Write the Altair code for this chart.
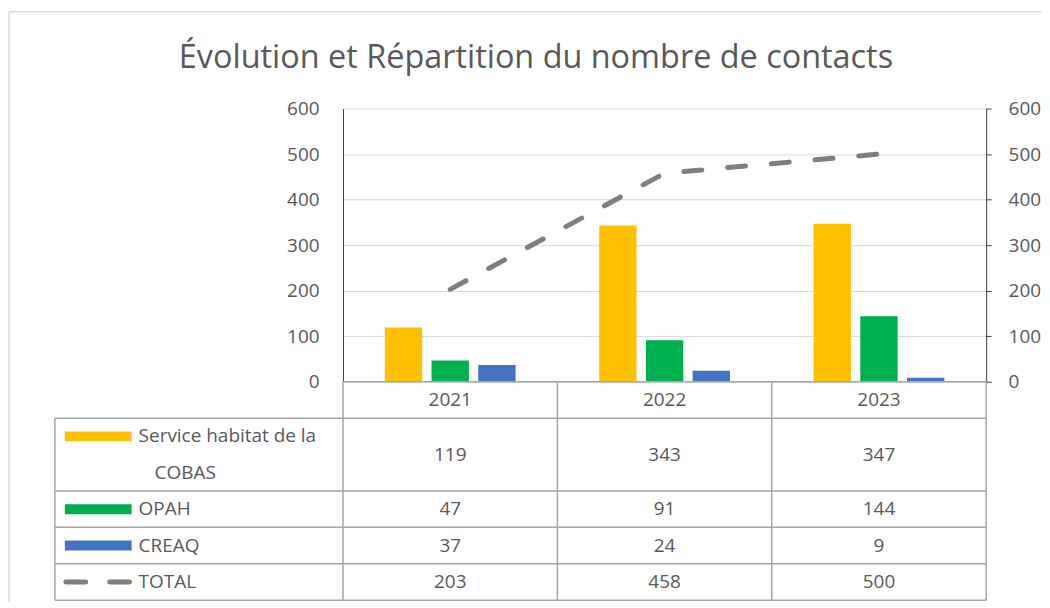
import altair as alt
import pandas as pd

# ---------------- data ----------------
years = ["2021", "2022", "2023"]
series = ["Service habitat de la COBAS", "OPAH", "CREAQ"]
cobas = [119, 343, 347]
opah = [47, 91, 144]
creaq = [37, 24, 9]
total = [203, 458, 500]
y_ticks = [0, 100, 200, 300, 400, 500, 600]

# table rows (slot names of the data table under the chart)
slots = ["hdr", "r1a", "r1b", "r2", "r3", "r4"]
row_labels = ["Service habitat de la", "OPAH", "CREAQ", "TOTAL"]
row_label_slots = ["r1a", "r2", "r3", "r4"]

# ---------------- style ----------------
colors = ["#FFC000", "#00B050", "#4472C4"]
line_color = "#7F7F7F"
FONT = "Open Sans"
TXT = "#595959"
BORDER = "#A6A6A6"
AXIS = "#404040"
W, H, TH = 645, 274, 219
LABEL_COL = 289

bars_df = pd.DataFrame(
    [{"year": y, "series": s, "value": v}
     for s, vals in zip(series, [cobas, opah, creaq])
     for y, v in zip(years, vals)]
)
total_df = pd.DataFrame({"year": years, "total": total})

# ---------------- top: bars + line ----------------
x_top = alt.X("year:N", sort=years,
              scale=alt.Scale(paddingInner=0.39, paddingOuter=0.195), axis=None)

bars = alt.Chart(bars_df).mark_bar().encode(
    x=x_top,
    xOffset=alt.XOffset("series:N", sort=series,
                        scale=alt.Scale(paddingInner=0.2, paddingOuter=0)),
    y=alt.Y("value:Q", scale=alt.Scale(domain=[0, 600], nice=False),
            axis=alt.Axis(values=y_ticks, orient="left", grid=True, gridColor="#D9D9D9",
                          ticks=False, tickSize=0, labelPadding=24, domainColor=AXIS,
                          labelFontSize=19, labelColor=TXT, labelFont=FONT, title=None)),
    color=alt.Color("series:N", scale=alt.Scale(domain=series, range=colors), legend=None),
)

line = alt.Chart(total_df).mark_line(
    color=line_color, strokeWidth=5, strokeDash=[18, 26], strokeCap="round"
).encode(
    x=x_top,
    y=alt.Y("total:Q", scale=alt.Scale(domain=[0, 600], nice=False),
            axis=alt.Axis(values=y_ticks, orient="right", grid=False, ticks=True, tickSize=5,
                          tickColor=AXIS, domainColor=AXIS, labelPadding=17,
                          labelFontSize=19, labelColor=TXT, labelFont=FONT, title=None)),
)

# light chart-area frame (top and left edges, as in the reference)
frame_top = alt.Chart(pd.DataFrame({"k": [0]})).mark_rule(color="#D9D9D9", strokeWidth=1.5).encode(
    x=alt.value(-335), x2=alt.value(700), y=alt.value(-97))
frame_left = alt.Chart(pd.DataFrame({"k": [0]})).mark_rule(color="#D9D9D9", strokeWidth=1.5).encode(
    x=alt.value(-335), y=alt.value(-97), y2=alt.value(H))

top = alt.layer(frame_top, frame_left, bars, line).resolve_scale(y="independent").properties(
    width=W, height=H)

# ---------------- bottom: data table ----------------
y_scale = alt.Scale(domain=slots, paddingInner=0, paddingOuter=0)
x_tab = alt.X("year:N", sort=years, scale=alt.Scale(paddingInner=0, paddingOuter=0), axis=None)


def ys(bp=0.5):
    return alt.Y("slot:N", scale=y_scale, axis=None, bandPosition=bp)


hdr_df = pd.DataFrame({"year": years, "slot": ["hdr"] * 3})
vals_df = pd.DataFrame(
    [{"year": y, "slot": s, "value": v}
     for s, vals in zip(["r2", "r3", "r4"], [opah, creaq, total])
     for y, v in zip(years, vals)]
)
cobas_df = pd.DataFrame({"year": years, "slot": ["r1b"] * 3, "value": cobas})

txt = dict(font=FONT, fontSize=19, color=TXT, baseline="middle")

hdr_text = alt.Chart(hdr_df).mark_text(**txt).encode(x=x_tab, y=ys(), text="year:N")
val_text = alt.Chart(vals_df).mark_text(**txt).encode(x=x_tab, y=ys(), text="value:Q")
cobas_text = alt.Chart(cobas_df).mark_text(**txt).encode(x=x_tab, y=ys(0), text="value:Q")

# borders
hb_df = pd.DataFrame({"slot": ["r1a", "r2", "r3", "r4"]})
h_full = alt.Chart(hb_df).mark_rule(color=BORDER, strokeWidth=1.5).encode(
    y=ys(0), x=alt.value(-LABEL_COL), x2=alt.value(W))
h_bottom = alt.Chart(pd.DataFrame({"slot": ["r4"]})).mark_rule(color=BORDER, strokeWidth=1.5).encode(
    y=ys(1), x=alt.value(-LABEL_COL), x2=alt.value(W))
h_top = alt.Chart(pd.DataFrame({"slot": ["hdr"]})).mark_rule(color=BORDER, strokeWidth=1.5).encode(
    y=ys(0), x=alt.value(0), x2=alt.value(W))
v_cols = alt.Chart(pd.DataFrame({"year": years})).mark_rule(color=BORDER, strokeWidth=1.5).encode(
    x=alt.X("year:N", sort=years, scale=alt.Scale(paddingInner=0, paddingOuter=0), axis=None,
            bandPosition=0),
    y=alt.value(0), y2=alt.value(TH))
v_right = alt.Chart(pd.DataFrame({"year": ["2023"]})).mark_rule(color=BORDER, strokeWidth=1.5).encode(
    x=alt.X("year:N", sort=years, scale=alt.Scale(paddingInner=0, paddingOuter=0), axis=None,
            bandPosition=1),
    y=alt.value(0), y2=alt.value(TH))
v_left = alt.Chart(pd.DataFrame({"slot": ["r1a"]})).mark_rule(color=BORDER, strokeWidth=1.5).encode(
    x=alt.value(-LABEL_COL), y=ys(0), y2=alt.value(TH))
frame_left2 = alt.Chart(pd.DataFrame({"k": [0]})).mark_rule(color="#D9D9D9", strokeWidth=1.5).encode(
    x=alt.value(-335), y=alt.value(0), y2=alt.value(TH + 2))

# row labels + legend keys
lab_df = pd.DataFrame({"slot": row_label_slots, "label": row_labels})
labels = alt.Chart(lab_df).mark_text(align="left", **txt).encode(
    x=alt.value(-205), y=ys(), text="label:N")
cobas2 = alt.Chart(pd.DataFrame({"slot": ["r1b"], "label": ["COBAS"]})).mark_text(
    align="left", **txt).encode(x=alt.value(-189), y=ys(), text="label:N")

key_df = pd.DataFrame({"slot": ["r1a", "r2", "r3"], "series": series})
keys = alt.Chart(key_df).mark_rule(strokeWidth=10).encode(
    x=alt.value(-279), x2=alt.value(-212), y=ys(),
    color=alt.Color("series:N", scale=alt.Scale(domain=series, range=colors), legend=None))
key_total = alt.Chart(pd.DataFrame({"slot": ["r4"]})).mark_rule(
    strokeWidth=5, color=line_color, strokeDash=[20, 24], strokeCap="round").encode(
    x=alt.value(-278), x2=alt.value(-214), y=ys())

bottom = alt.layer(
    frame_left2, h_full, h_bottom, h_top, v_cols, v_right, v_left,
    hdr_text, val_text, cobas_text, labels, cobas2, keys, key_total,
).properties(width=W, height=TH)

chart = alt.vconcat(
    top, bottom, spacing=0, bounds="flush",
    title=alt.Title("Évolution et Répartition du nombre de contacts", font=FONT, fontSize=32.5,
                    fontWeight="normal", color=TXT, anchor="middle", offset=-64, dx=11),
).properties(
    padding={"left": 0, "top": 2, "right": 0, "bottom": 0}
).configure_view(stroke=None)

chart.save("out.html", embed_options={"renderer": "svg", "actions": False})
